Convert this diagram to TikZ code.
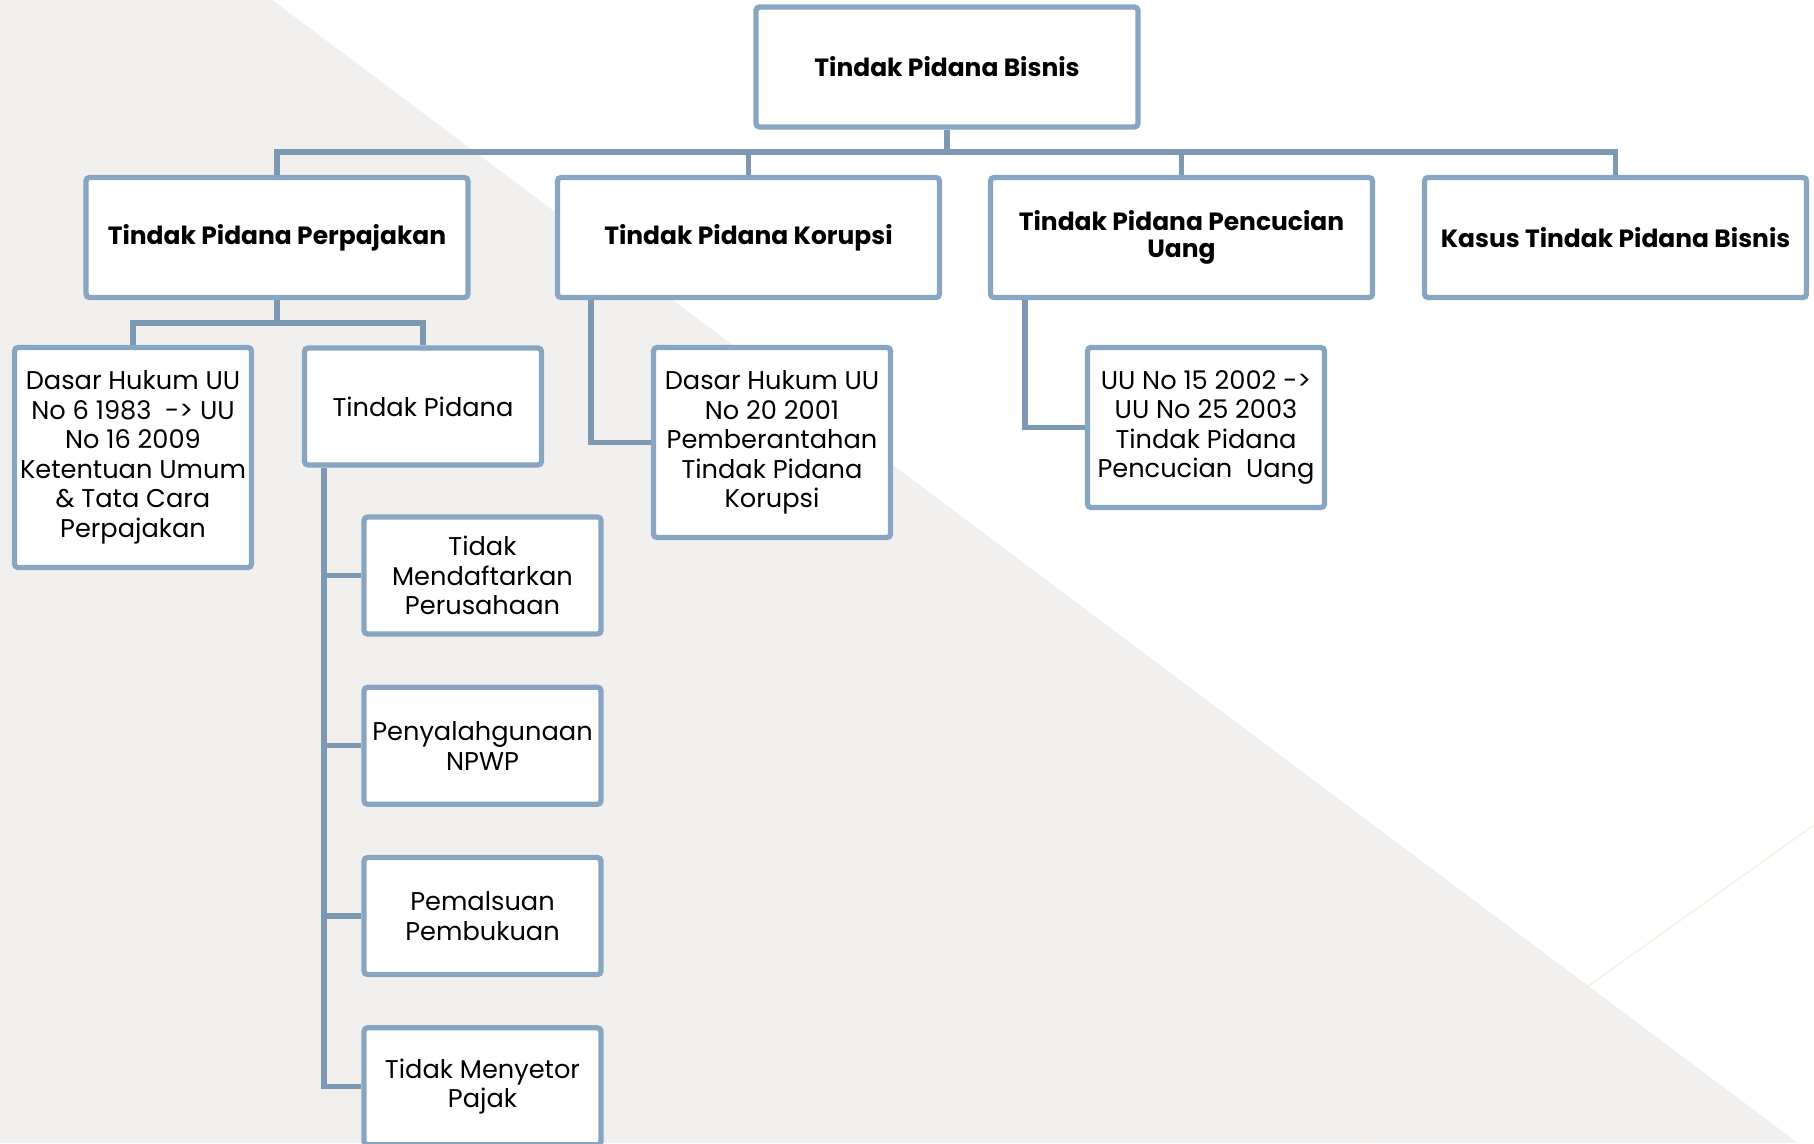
\documentclass[tikz,border=0pt]{standalone}
\usepackage{fontspec}
\setmainfont{Poppins}
\usepackage{xcolor}
\usepackage{tikz}
\usetikzlibrary{positioning, calc}
\definecolor{boxline}{HTML}{88A6C2}
\definecolor{linkline}{HTML}{7D98B2}
\definecolor{bggrey}{HTML}{F2F0EE}
\definecolor{bgline}{HTML}{F6F0E2}
\tikzset{
  headbox/.style={rectangle, draw=boxline, line width=1.5pt, fill=white, minimum width=3.82cm, minimum height=1.2cm, inner sep=1pt, align=center, rounded corners=1pt, font=\fontsize{7.1pt}{7.8pt}\selectfont\bfseries},
  subbox/.style={rectangle, draw=boxline, line width=1.5pt, fill=white, minimum width=2.37cm, minimum height=1.17cm, inner sep=1pt, align=center, rounded corners=1pt, font=\fontsize{7.3pt}{8.4pt}\selectfont},
  link/.style={draw=linkline, line width=1.5pt},
}

\begin{document}
\begin{tikzpicture}[node distance=0.48cm and 1.2cm]
  % Background
  \useasboundingbox (0,0) rectangle (18.14,-11.43);
  \fill[white] (0,0) rectangle (18.14,-11.43);
  \fill[bggrey] (0,0) -- (2.72,0) -- (17.98,-11.43) -- (0,-11.43) -- cycle;
  \draw[bgline, line width=0.4pt] (13.68,-11.43) -- (18.14,-8.25);

  % Top
  \node[headbox] (bisnis) at (9.47,-0.67) {Tindak Pidana Bisnis};
  \coordinate (bus) at (9.47,-1.52);

  % Kinds of crime
  \node[headbox] (pajak) at (2.77,-2.375) {Tindak Pidana Perpajakan};
  \node[headbox] (korupsi) at (7.485,-2.375) {Tindak Pidana Korupsi};
  \node[headbox] (cuci) at (11.815,-2.375) {Tindak Pidana Pencucian\\Uang};
  \node[headbox] (kasus) at (16.155,-2.375) {Kasus Tindak Pidana Bisnis};

  % Under Perpajakan
  \coordinate (pajakbus) at (2.77,-3.23);
  \node[subbox, minimum height=2.2cm] (dasarpajak) at (1.33,-4.575) {Dasar Hukum UU\\No 6 1983 \ -> UU\\No 16 2009\\Ketentuan Umum\\\& Tata Cara\\Perpajakan};
  \node[subbox] (pidana) at (4.23,-4.065) {Tindak Pidana};

  % Kinds of tax crime
  \node[subbox] (daftar) at (4.825,-5.755) {Tidak\\Mendaftarkan\\Perusahaan};
  \node[subbox, below=of daftar] (npwp) {Penyalahgunaan\\NPWP};
  \node[subbox, below=of npwp] (palsu) {Pemalsuan\\Pembukuan};
  \node[subbox, below=of palsu] (setor) {Tidak Menyetor\\Pajak};

  % Under Korupsi and Pencucian
  \node[subbox, minimum height=1.9cm] (dasarkorupsi) at (7.72,-4.425) {Dasar Hukum UU\\No 20 2001\\Pemberantahan\\Tindak Pidana\\Korupsi};
  \node[subbox, minimum height=1.6cm] (dasarcuci) at (12.06,-4.275) {UU No 15 2002 ->\\UU No 25 2003\\Tindak Pidana\\Pencucian \ Uang};

  % Links
  \draw[link] (bisnis.south) -- (bus);
  \draw[link] (bus) -| (pajak.north);
  \draw[link] (bus) -| (korupsi.north);
  \draw[link] (bus) -| (cuci.north);
  \draw[link] (bus) -| (kasus.north);
  \draw[link] (pajak.south) -- (pajakbus);
  \draw[link] (pajakbus) -| (dasarpajak.north);
  \draw[link] (pajakbus) -| (pidana.north);
  \foreach \kind in {daftar, npwp, palsu, setor}
    \draw[link] ([xshift=0.22cm]pidana.south west) |- (\kind.west);
  \draw[link] ([xshift=0.36cm]korupsi.south west) |- (dasarkorupsi.west);
  \draw[link] ([xshift=0.37cm]cuci.south west) |- (dasarcuci.west);
\end{tikzpicture}
\end{document}
